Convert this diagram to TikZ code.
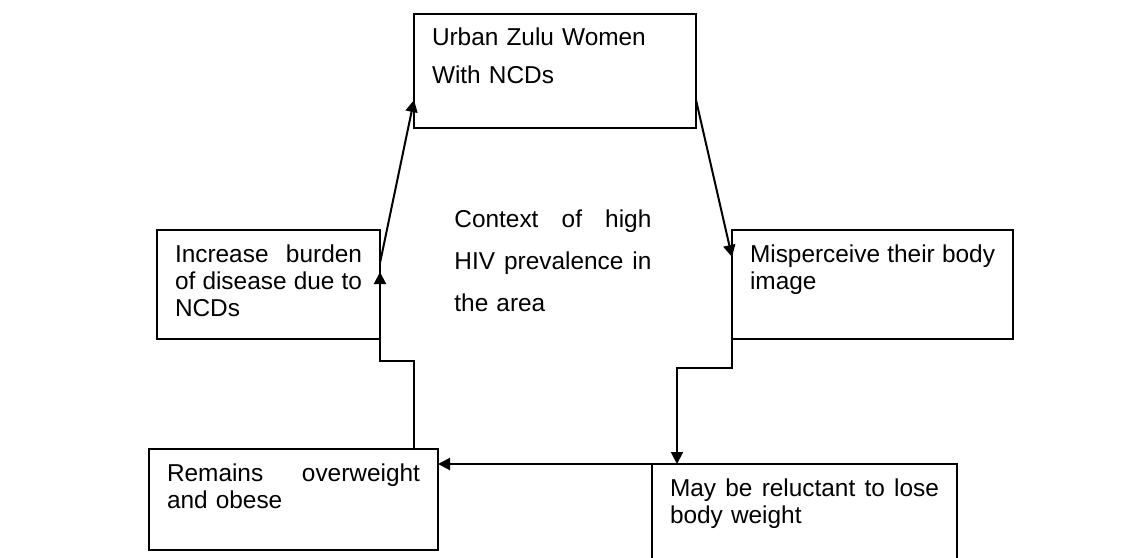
\documentclass[tikz,border=0pt]{standalone}
\usepackage{fontspec}
\setmainfont{Liberation Sans}
\usetikzlibrary{arrows.meta, positioning, calc}

% spread one line of a box over the full text width
\newcommand{\spreadline}[1]{\makebox[\hsize][s]{\spaceskip=.278em plus 1fil minus .1em\relax #1}}

\begin{document}
\begin{tikzpicture}[x=0.5pt, y=-0.5pt, % one unit = one pixel of the figure
		box/.style={rectangle, draw=black, line width=0.7pt, anchor=north west, outer sep=0pt, inner xsep=9pt, inner ysep=8pt, text height=8pt, align=left, font=\fontsize{12.2}{13.5}\selectfont},
		arrow/.style={-{Triangle[length=6pt, width=6pt]}, line width=1pt}
		]
		\useasboundingbox (0,0) rectangle (1140,557);
		
		% Group at the top
		\node[box, text width=123pt, text depth=33pt, font=\fontsize{12.2}{18.5}\selectfont] (urban) at (414,14) {Urban Zulu Women\\With NCDs};
		
		% Side boxes
		\node[box, text width=93.5pt, text depth=30.5pt] (burden) at (157,230) {\spreadline{Increase burden}\\\spreadline{of disease due to}\\NCDs};
		\node[box, text width=122.5pt, text depth=30.5pt] (misp) at (732,230) {\spreadline{Misperceive their body}\\image};
		
		% Bottom boxes
		\node[box, text width=126.5pt, text depth=26.5pt] (remains) at (149,449) {\spreadline{Remains overweight}\\and obese};
		\node[box, text width=134.5pt, text depth=25pt] (may) at (652,464) {\spreadline{May be reluctant to lose}\\body weight};
		
		% Context in the middle
		\node[anchor=base west, inner sep=0pt, text width=98.5pt, align=left, font=\fontsize{12.2}{21}\selectfont] (context) at (454,227) {\spreadline{Context of high}\\\spreadline{HIV prevalence in}\\the area};
		
		% Cycle of arrows
		\draw[arrow] ([yshift=-16.5pt]burden.north east) -- ([yshift=14pt]urban.south west);
		\draw[arrow] ([yshift=14pt]urban.south east) -- ([yshift=-13.5pt]misp.north west);
		\draw[arrow] (misp.south west) -- ++(0,29) -| ([xshift=12.5pt]may.north west);
		\draw[arrow] (may.north west) -- (may.north west -| remains.east);
		\draw[arrow] ([xshift=-12pt]remains.north east) -- ++(0,-88) -| ([yshift=-21pt]burden.north east);
		
	\end{tikzpicture}
\end{document}
